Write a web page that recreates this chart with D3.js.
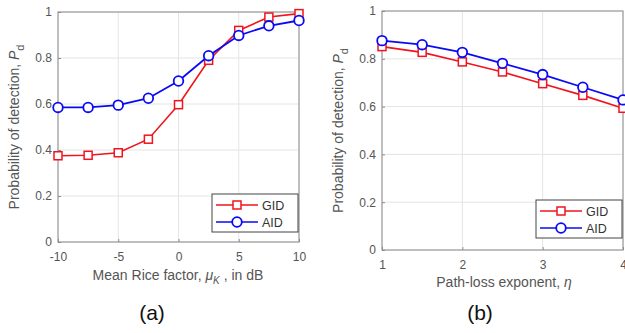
<!DOCTYPE html>
<html>
<head>
<meta charset="utf-8">
<script src="https://cdn.jsdelivr.net/npm/d3@7"></script>
<style>
  body { margin: 0; background: #fff; }
  text { font-family: "Liberation Sans", Arial, sans-serif; }
</style>
</head>
<body>
<svg id="chart"></svg>
<script>
var width = 625;
var height = 333;

// panel (a): mean Rice factor
var riceX = [-10, -7.5, -5, -2.5, 0, 2.5, 5, 7.5, 10];
var riceGID = [0.375, 0.377, 0.388, 0.447, 0.597, 0.79, 0.92, 0.978, 0.993];
var riceAID = [0.585, 0.585, 0.595, 0.625, 0.70, 0.81, 0.898, 0.94, 0.963];
var riceTicks = [-10, -5, 0, 5, 10];

// panel (b): path-loss exponent
var etaX = [1, 1.5, 2, 2.5, 3, 3.5, 4];
var etaGID = [0.851, 0.827, 0.787, 0.745, 0.696, 0.647, 0.593];
var etaAID = [0.876, 0.859, 0.827, 0.781, 0.734, 0.681, 0.628];
var etaTicks = [1, 2, 3, 4];

var pdTicks = [0, 0.2, 0.4, 0.6, 0.8, 1];

var red = "#f0141e";
var blue = "#0a0af5";

var svg = d3.select("#chart").attr("width", width).attr("height", height);

function panel(opt) {
  var xScale = d3.scaleLinear().domain(opt.xDomain).range([opt.left, opt.right]);
  var yScale = d3.scaleLinear().domain([0, 1]).range([opt.bottom, opt.top]);
  var g = svg.append("g");

  // grid
  g.selectAll(".gx").data(opt.xTicks).enter().append("line")
    .attr("x1", function(d) {return xScale(d);})
    .attr("x2", function(d) {return xScale(d);})
    .attr("y1", opt.top).attr("y2", opt.bottom)
    .attr("stroke", "#e4e4e4").attr("stroke-width", 1);
  g.selectAll(".gy").data(pdTicks).enter().append("line")
    .attr("x1", opt.left).attr("x2", opt.right)
    .attr("y1", function(d) {return yScale(d);})
    .attr("y2", function(d) {return yScale(d);})
    .attr("stroke", "#e4e4e4").attr("stroke-width", 1);

  // box
  g.append("rect")
    .attr("x", opt.left).attr("y", opt.top)
    .attr("width", opt.right - opt.left).attr("height", opt.bottom - opt.top)
    .attr("fill", "none").attr("stroke", "#8c8c8c").attr("stroke-width", 1);

  var xAxis = g.append("g")
    .attr("transform", `translate(0, ${opt.bottom})`)
    .call(d3.axisBottom(xScale).tickValues(opt.xTicks).tickSize(-3).tickPadding(10)
      .tickFormat(function(d) {return String(d);}));
  var yAxis = g.append("g")
    .attr("transform", `translate(${opt.left},0)`)
    .call(d3.axisLeft(yScale).tickValues(pdTicks).tickSize(-3).tickPadding(6)
      .tickFormat(function(d) {return d === 0 || d === 1 ? d : d.toFixed(1);}));
  [xAxis, yAxis].forEach(function(a) {
    a.select(".domain").remove();
    a.selectAll("line").attr("stroke", "#8c8c8c");
    a.selectAll("text").attr("fill", "#555").style("font-size", "12px")
      .style("font-family", "'Liberation Sans', Arial, sans-serif");
  });

  // y label
  var yl = g.append("text")
    .attr("transform", `translate(${opt.yLabelX}, ${(opt.top + opt.bottom) / 2}) rotate(-90)`)
    .attr("text-anchor", "middle").attr("fill", "#555").style("font-size", "14px");
  yl.append("tspan").text("Probability of detection, ");
  yl.append("tspan").attr("font-style", "italic").text("P");
  yl.append("tspan").attr("dy", 5).style("font-size", "11px").text("d");

  // x label
  var xl = g.append("text")
    .attr("x", opt.xLabelCx).attr("y", opt.xLabelY)
    .attr("text-anchor", "middle").attr("fill", "#555").style("font-size", "14px");
  opt.xLabel(xl);

  // series
  var line = d3.line()
    .x(function(d) {return xScale(d[0]);})
    .y(function(d) {return yScale(d[1]);});
  var gid = d3.zip(opt.xs, opt.gid);
  var aid = d3.zip(opt.xs, opt.aid);

  g.append("path").datum(gid).attr("d", line)
    .attr("fill", "none").attr("stroke", red).attr("stroke-width", 1.6);
  g.selectAll(".sq").data(gid).enter().append("rect")
    .attr("x", function(d) {return xScale(d[0]) - 4;})
    .attr("y", function(d) {return yScale(d[1]) - 4;})
    .attr("width", 8).attr("height", 8)
    .attr("fill", "#fff").attr("stroke", red).attr("stroke-width", 1.5);

  g.append("path").datum(aid).attr("d", line)
    .attr("fill", "none").attr("stroke", blue).attr("stroke-width", 1.8);
  g.selectAll(".ci").data(aid).enter().append("circle")
    .attr("cx", function(d) {return xScale(d[0]);})
    .attr("cy", function(d) {return yScale(d[1]);})
    .attr("r", 4.8)
    .attr("fill", "#fff").attr("stroke", blue).attr("stroke-width", 1.8);

  // legend
  var lg = g.append("g").attr("transform", `translate(${opt.right - 87}, ${opt.legendY})`);
  lg.append("rect").attr("width", 86).attr("height", 38)
    .attr("fill", "#fff").attr("stroke", "#444").attr("stroke-width", 1);
  var items = [{name: "GID", color: red, shape: "sq"}, {name: "AID", color: blue, shape: "ci"}];
  items.forEach(function(it, i) {
    var y = 11 + i * 17;
    lg.append("line").attr("x1", 4).attr("x2", 46).attr("y1", y).attr("y2", y)
      .attr("stroke", it.color).attr("stroke-width", 1.6);
    if (it.shape === "sq") {
      lg.append("rect").attr("x", 21).attr("y", y - 4).attr("width", 8).attr("height", 8)
        .attr("fill", "#fff").attr("stroke", it.color).attr("stroke-width", 1.5);
    } else {
      lg.append("circle").attr("cx", 25).attr("cy", y).attr("r", 4.8)
        .attr("fill", "#fff").attr("stroke", it.color).attr("stroke-width", 1.8);
    }
    lg.append("text").attr("x", 50).attr("y", y + 4.5).attr("fill", "#333")
      .style("font-size", "12.5px").text(it.name);
  });

  // caption
  g.append("text").attr("x", opt.capX).attr("y", 320).attr("text-anchor", "middle")
    .attr("fill", "#111").style("font-size", "21px").text(opt.caption);
}

panel({
  left: 58, right: 299, top: 12, bottom: 242,
  xDomain: [-10, 10], xTicks: riceTicks, xs: riceX, gid: riceGID, aid: riceAID,
  yLabelX: 19, legendY: 194, xLabelCx: 178, xLabelY: 280, capX: 152, caption: "(a)",
  xLabel: function(t) {
    t.append("tspan").text("Mean Rice factor, ");
    t.append("tspan").attr("font-style", "italic").text("μ");
    t.append("tspan").attr("dy", 4).attr("font-style", "italic").style("font-size", "10px").text("K");
    t.append("tspan").attr("dy", -4).text(" , in dB");
  }
});

panel({
  left: 382, right: 623, top: 11, bottom: 250,
  xDomain: [1, 4], xTicks: etaTicks, xs: etaX, gid: etaGID, aid: etaAID,
  yLabelX: 343, legendY: 200, xLabelCx: 504, xLabelY: 287, capX: 480, caption: "(b)",
  xLabel: function(t) {
    t.append("tspan").text("Path-loss exponent, ");
    t.append("tspan").attr("font-style", "italic").text("η");
  }
});
</script>
</body>
</html>
